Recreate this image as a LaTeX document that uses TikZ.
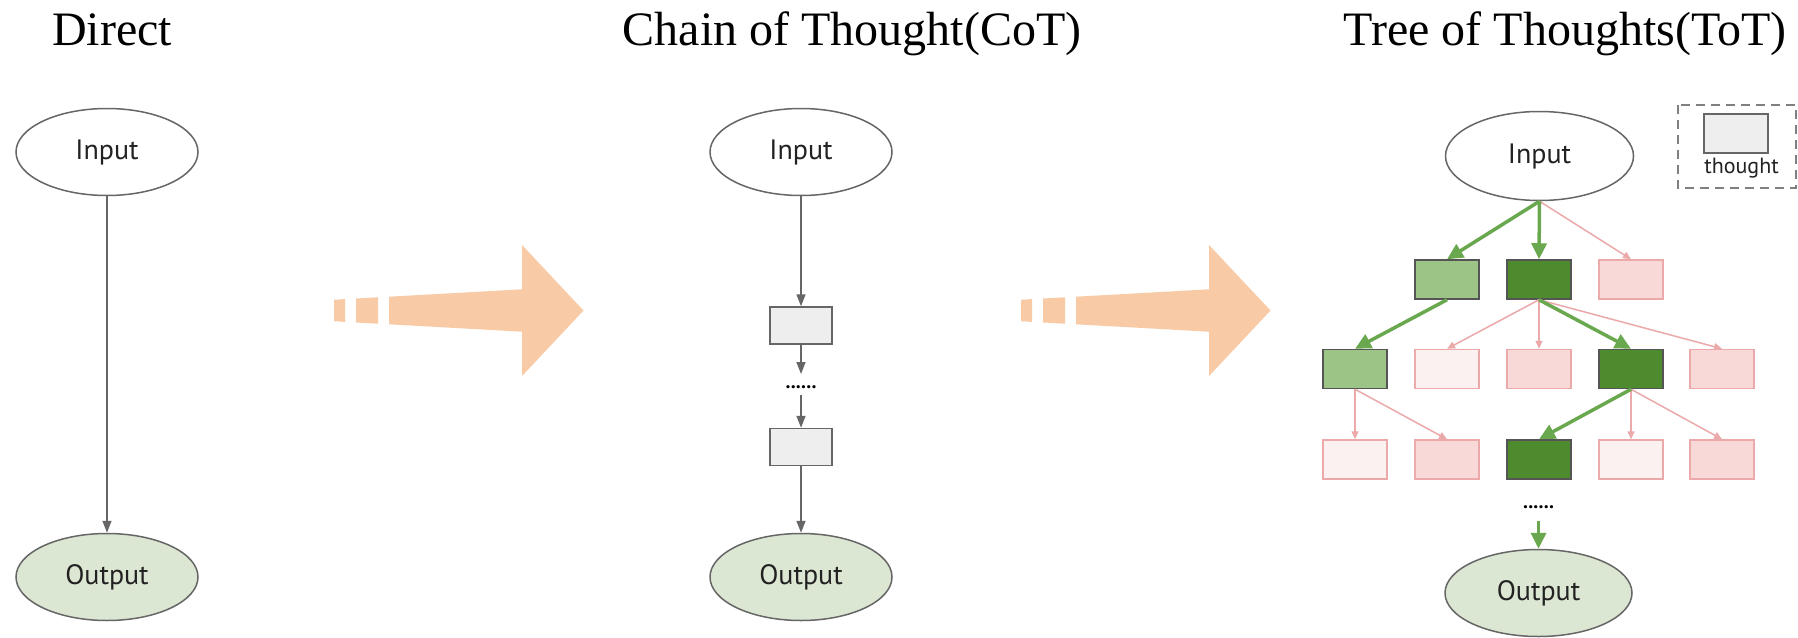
\documentclass[tikz,border=0pt]{standalone}
\usepackage{fontspec}
\setmainfont{Liberation Serif}
\newfontfamily\uifont{PT Sans}
\usetikzlibrary{shapes.geometric,arrows.meta}

\definecolor{edgegrey}{HTML}{666666}
\definecolor{outfill}{HTML}{DCE7D3}
\definecolor{boxfill}{HTML}{EEEEEE}
\definecolor{peach}{HTML}{F8CBA6}
\definecolor{gline}{HTML}{6AA84F}
\definecolor{lgreen}{HTML}{9CC487}
\definecolor{dgreen}{HTML}{4E8A2E}
\definecolor{pinkfill}{HTML}{F9D8D8}
\definecolor{palepink}{HTML}{FCF1F1}
\definecolor{pinkline}{HTML}{EBA9A9}
\definecolor{boxborder}{HTML}{555555}
\definecolor{legdash}{HTML}{808080}
\definecolor{labeltext}{HTML}{222222}

\begin{document}
\begin{tikzpicture}[x=1pt,y=-1pt,
  ttl/.style={font=\fontsize{48}{52}\selectfont, anchor=base, inner sep=0pt},
  io/.style={ellipse, draw=edgegrey, line width=1.5pt, minimum width=182pt, minimum height=87pt, inner sep=0pt, font=\uifont\fontsize{28}{30}\selectfont, text=labeltext},
  outio/.style={io, fill=outfill},
  cbox/.style={rectangle, draw=edgegrey, line width=1.5pt, fill=boxfill, minimum width=62pt, minimum height=37pt, inner sep=0pt},
  tbox/.style={rectangle, line width=1.5pt, minimum width=64pt, minimum height=39pt, inner sep=0pt},
  goodbox/.style={tbox, draw=boxborder, fill=lgreen},
  bestbox/.style={tbox, draw=boxborder, fill=dgreen},
  badbox/.style={tbox, draw=pinkline, fill=pinkfill},
  palebox/.style={tbox, draw=pinkline, fill=palepink},
  greyarrow/.style={draw=edgegrey, line width=1.5pt, -{Triangle[length=12pt,width=9pt]}},
  greenarrow/.style={draw=gline, line width=3.5pt, -{Triangle[length=16pt,width=15pt]}},
  pinkarrow/.style={draw=pinkline, line width=1.5pt, -{Triangle[length=8pt,width=7pt]}},
  dotrow/.style={font=\uifont\fontsize{20}{20}\selectfont\bfseries, anchor=base, inner sep=0pt},
]
\useasboundingbox (0,0) rectangle (1798,637);
\fill[white] (0,0) rectangle (1798,637);

% titles
\node[ttl] (t1) at (112,45) {Direct};
\node[ttl] (t2) at (852,45) {Chain of Thought(CoT)};
\node[ttl] (t3) at (1565,45) {Tree of Thoughts(ToT)};

% peach arrows
\foreach \dx in {0,687} {
  \begin{scope}[xshift=\dx pt]
    \fill[peach] (334,299.8) -- (345,299.1) -- (345,321.9) -- (334,321.2) -- cycle;
    \fill[peach] (356,298.5) -- (378,297.3) -- (378,323.7) -- (356,322.5) -- cycle;
    \fill[peach] (389,296.7) -- (522,289.3) -- (522,245) -- (583.5,310.5) -- (522,376) -- (522,331.7) -- (389,324.3) -- cycle;
  \end{scope}
}

% Direct
\node[io] (din) at (107,152) {Input};
\node[outio] (dout) at (107,577) {Output};
\draw[greyarrow] (din.south) -- (dout.north);

% Chain of Thought
\node[io] (cin) at (801,152) {Input};
\node[cbox] (cb1) at (801,325.5) {};
\node[dotrow] (cdots) at (801,388) {......};
\node[cbox] (cb2) at (801,447) {};
\node[outio] (cout) at (801,577) {Output};
\coordinate (cd1) at (801,374);
\coordinate (cd2) at (801,395);
\draw[greyarrow] (cin.south) -- (cb1.north);
\draw[greyarrow] (cb1.south) -- (cd1);
\draw[greyarrow] (cd2) -- (cb2.north);
\draw[greyarrow] (cb2.south) -- (cout.north);

% Tree of Thoughts
\node[io, minimum width=188pt, minimum height=89pt] (tin) at (1539.5,156) {Input};
\node[goodbox] (a1) at (1447,279.5) {};
\node[bestbox] (a2) at (1539,279.5) {};
\node[badbox]  (a3) at (1631,279.5) {};
\node[goodbox] (b1) at (1355,369) {};
\node[palebox] (b2) at (1447,369) {};
\node[badbox]  (b3) at (1539,369) {};
\node[bestbox] (b4) at (1631,369) {};
\node[badbox]  (b5) at (1722,369) {};
\node[palebox] (c1) at (1355,459.5) {};
\node[badbox]  (c2) at (1447,459.5) {};
\node[bestbox] (c3) at (1539,459.5) {};
\node[palebox] (c4) at (1631,459.5) {};
\node[badbox]  (c5) at (1722,459.5) {};
\node[dotrow] (tdots) at (1538.5,508) {......};
\coordinate (td) at (1538.5,521);
\node[outio, minimum width=187pt] (tout) at (1538.5,593) {Output};

\draw[pinkarrow] (tin.south) -- (a3.north);
\draw[pinkarrow] (a2.south) -- (b2.north);
\draw[pinkarrow] (a2.south) -- (b3.north);
\draw[pinkarrow] (a2.south) -- (b5.north);
\draw[pinkarrow] (b1.south) -- (c1.north);
\draw[pinkarrow] (b1.south) -- (c2.north);
\draw[pinkarrow] (b4.south) -- (c4.north);
\draw[pinkarrow] (b4.south) -- (c5.north);
\draw[greenarrow] (tin.south) -- (a1.north);
\draw[greenarrow] (tin.south) -- (a2.north);
\draw[greenarrow] (a1.south) -- (b1.north);
\draw[greenarrow] (a2.south) -- (b4.north);
\draw[greenarrow] (b4.south) -- (c3.north);
\draw[greenarrow] (td) -- (tout.north);

% legend
\draw[legdash, line width=2pt, dash pattern=on 9pt off 6pt] (1678,105) rectangle (1796,188);
\node[rectangle, draw=edgegrey, line width=1.5pt, fill=boxfill, minimum width=64pt, minimum height=39pt, inner sep=0pt] (lgbox) at (1736,133.5) {};
\node[font=\uifont\fontsize{22}{24}\selectfont, text=labeltext, inner sep=0pt] (lgtext) at (1741.5,168) {thought};
\end{tikzpicture}
\end{document}
